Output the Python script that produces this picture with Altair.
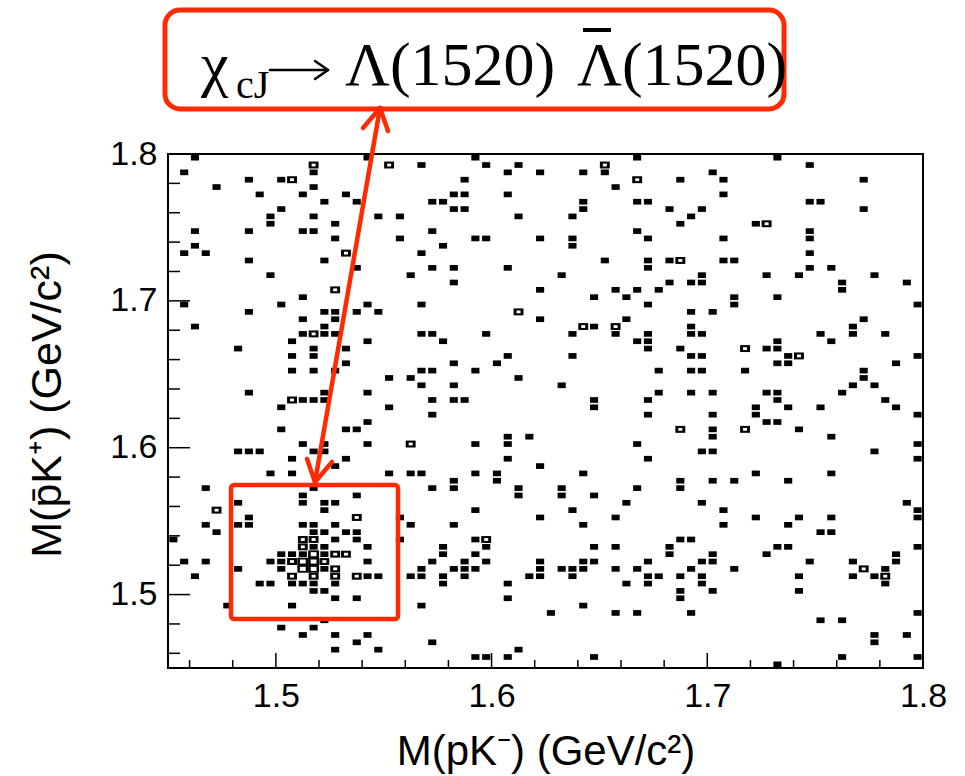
import altair as alt
import pandas as pd

# ---------------- data: occupied bins (bin centres, GeV/c^2) ----------------
# each row: M(pbar K+) value, list of M(p K-) values with entries
ROWS = [
    (1.7975, [1.4625, 1.5425, 1.5925, 1.6675, 1.7325]),
    (1.7925, [1.5175, 1.5525, 1.5675, 1.5975, 1.6125, 1.6525, 1.7475]),
    (1.7875, [1.4575, 1.5175, 1.6075, 1.6225, 1.6425, 1.6525, 1.7025]),
    (1.7825, [1.4875, 1.5025, 1.5075, 1.5875, 1.6675, 1.6875, 1.7075, 1.7725]),
    (1.7775, [1.4725, 1.5175, 1.6575]),
    (1.7725, [1.4925, 1.5125, 1.5325, 1.5825, 1.5875, 1.6075, 1.7075]),
    (1.7675, [1.5225, 1.5375, 1.5725, 1.5775, 1.6425, 1.6675, 1.6725, 1.7475, 1.7525]),
    (1.7625, [1.5025, 1.5825, 1.5875, 1.6425, 1.6825, 1.6975, 1.7725]),
    (1.7575, [1.4975, 1.5175, 1.5475, 1.5575, 1.6125, 1.6375, 1.6925]),
    (1.7525, [1.4975, 1.5275, 1.6875, 1.7225, 1.7275]),
    (1.7475, [1.4625, 1.4875, 1.5125, 1.5175, 1.5725, 1.6675, 1.7475]),
    (1.7425, [1.5275, 1.5575, 1.5925, 1.5975, 1.6225, 1.6375, 1.6725, 1.7075, 1.7475]),
    (1.7375, [1.4625, 1.5775, 1.6375]),
    (1.7325, [1.4575, 1.4675, 1.5325, 1.5675, 1.7475]),
    (1.7275, [1.4875, 1.5225, 1.6525, 1.6725, 1.6825, 1.6875, 1.7075, 1.7125]),
    (1.7225, [1.5375, 1.5725, 1.5825, 1.6075, 1.6725, 1.7475, 1.7575]),
    (1.7175, [1.4975, 1.5625, 1.6325, 1.6975, 1.7275, 1.7425, 1.7775]),
    (1.7125, [1.5825, 1.6825, 1.6925, 1.6975, 1.7625, 1.7925]),
    (1.7075, [1.5275, 1.6225, 1.6575, 1.6675, 1.6775, 1.7625]),
    (1.7025, [1.5125, 1.6475, 1.6625, 1.7125, 1.7325]),
    (1.6975, [1.4575, 1.5025, 1.5425, 1.5675, 1.6725, 1.7125, 1.7975]),
    (1.6925, [1.4875, 1.5225, 1.5275, 1.5375, 1.5475, 1.6125, 1.6925, 1.7025]),
    (1.6875, [1.5125, 1.5275, 1.6225, 1.6625, 1.7725]),
    (1.6825, [1.4625, 1.5225, 1.6425, 1.6475, 1.6575, 1.6925, 1.7675]),
    (1.6775, [1.5125, 1.5175, 1.5225, 1.5275, 1.5675, 1.5725, 1.5975, 1.6375,
              1.6575, 1.6725, 1.6925, 1.6975, 1.7525, 1.7675, 1.7825]),
    (1.6725, [1.5075, 1.5425, 1.5775, 1.6675, 1.6725, 1.7325, 1.7575]),
    (1.6675, [1.4825, 1.5175, 1.5325, 1.6725, 1.6875, 1.7175, 1.7275, 1.7325]),
    (1.6625, [1.5075, 1.5175, 1.6075, 1.6375, 1.6925, 1.6975, 1.7375, 1.7425, 1.7975]),
    (1.6575, [1.5325, 1.5825, 1.6025, 1.7325, 1.7375, 1.7875]),
    (1.6525, [1.5075, 1.5175, 1.5275, 1.5675, 1.5725, 1.5925, 1.6775, 1.6925,
              1.6975, 1.7175, 1.7725]),
    (1.6475, [1.5525, 1.5625, 1.6125, 1.7725]),
    (1.6425, [1.5675, 1.5825, 1.6325, 1.7675, 1.7775]),
    (1.6375, [1.4875, 1.5225, 1.5425, 1.6775, 1.6925, 1.7025, 1.7275, 1.7325, 1.7625]),
    (1.6325, [1.5075, 1.5125, 1.5175, 1.5225, 1.5725, 1.5825, 1.5875, 1.6475,
              1.6725, 1.7325, 1.7825]),
    (1.6275, [1.5025, 1.5525, 1.6475, 1.7225, 1.7375, 1.7525, 1.7875]),
    (1.6225, [1.5725, 1.6725, 1.7025, 1.7225, 1.7975]),
    (1.6175, [1.5425, 1.7275, 1.7325]),
    (1.6125, [1.5025, 1.5325, 1.5375, 1.6875, 1.7025, 1.7175, 1.7425]),
    (1.6075, [1.6075, 1.6175, 1.7025, 1.7575]),
    (1.6025, [1.5125, 1.5225, 1.5425, 1.5625, 1.5925, 1.6075, 1.6675, 1.7975]),
    (1.5975, [1.4825, 1.4875, 1.4925, 1.5175, 1.5225, 1.6975, 1.7025, 1.7775]),
    (1.5925, [1.5075, 1.5325, 1.6075, 1.6725, 1.7975]),
    (1.5875, [1.5275, 1.6225]),
    (1.5825, [1.4975, 1.5075, 1.5525, 1.5625, 1.5675, 1.5925, 1.6025, 1.6425,
              1.7225, 1.7575]),
    (1.5775, [1.5825, 1.6025, 1.6875, 1.7025, 1.7125, 1.7375]),
    (1.5725, [1.4675, 1.5175, 1.5725, 1.5825, 1.6125, 1.6325, 1.6675, 1.6875]),
    (1.5675, [1.5125, 1.5375, 1.6125, 1.6325, 1.6475]),
    (1.5625, [1.4825, 1.5125, 1.5225, 1.5275, 1.6625, 1.6975, 1.7925]),
    (1.5575, [1.4725, 1.5225, 1.5925, 1.6375, 1.7075, 1.7975]),
    (1.5525, [1.4875, 1.5375, 1.5575, 1.6225, 1.6575, 1.7225, 1.7425, 1.7575, 1.7975]),
    (1.5475, [1.4675, 1.4825, 1.4875, 1.5125, 1.5175, 1.5275, 1.5625, 1.5825,
              1.6425, 1.7075, 1.7375]),
    (1.5425, [1.4725, 1.5175, 1.5225, 1.5325, 1.5375, 1.7525, 1.7575]),
    (1.5375, [1.4525, 1.5125, 1.5175, 1.5275, 1.5375, 1.5575, 1.5925, 1.5975,
              1.6875, 1.6925]),
    (1.5325, [1.5125, 1.5175, 1.5225, 1.5425, 1.5775, 1.5975, 1.6475, 1.6575,
              1.6825, 1.7325, 1.7375, 1.7975]),
    (1.5275, [1.5025, 1.5075, 1.5125, 1.5175, 1.5225, 1.5275, 1.5325, 1.5775,
              1.5925, 1.6825, 1.7025, 1.7275, 1.7875]),
    (1.5225, [1.4575, 1.4675, 1.4975, 1.5025, 1.5075, 1.5125, 1.5175, 1.5225,
              1.5425, 1.5725, 1.5875, 1.5975, 1.6225, 1.6425, 1.6475, 1.6725,
              1.6975, 1.7025, 1.7475, 1.7675, 1.7875]),
    (1.5175, [1.4825, 1.5025, 1.5125, 1.5175, 1.5225, 1.5275, 1.5675, 1.5825,
              1.5875, 1.5925, 1.6225, 1.6325, 1.6375, 1.6425, 1.6575, 1.6675,
              1.6925, 1.7125, 1.7725, 1.7825]),
    (1.5125, [1.4625, 1.5075, 1.5175, 1.5275, 1.5375, 1.5425, 1.5475, 1.5625,
              1.5675, 1.5775, 1.5875, 1.6175, 1.6225, 1.6375, 1.6725, 1.6775,
              1.6875, 1.6975, 1.7425, 1.7675, 1.7775, 1.7825]),
    (1.5075, [1.4925, 1.4975, 1.5075, 1.5125, 1.5175, 1.5275, 1.5775, 1.6075,
              1.6625, 1.6725, 1.6975, 1.7825]),
    (1.5025, [1.5175, 1.5225, 1.6875, 1.7025, 1.7425]),
    (1.4975, [1.5275, 1.5375, 1.6075, 1.6875]),
    (1.4925, [1.4775, 1.5075, 1.5675, 1.6425]),
    (1.4875, [1.6275, 1.6575, 1.6675, 1.6925, 1.7975]),
    (1.4825, [1.5225, 1.7525, 1.7625]),
    (1.4775, [1.5025, 1.5175]),
    (1.4725, [1.5125, 1.5275, 1.5425, 1.7775, 1.7925]),
    (1.4675, [1.5375, 1.5725, 1.7775]),
    (1.4625, [1.5275, 1.5475, 1.6125]),
    (1.4575, [1.5925, 1.5975, 1.6075, 1.6475, 1.7625, 1.7975]),
    (1.4525, [1.7325]),
]

# bins holding more than one entry: (M(pK-), M(pbarK+), entries)
MULTI = [
    (1.5175, 1.7925, 2), (1.5525, 1.7925, 2), (1.6525, 1.7925, 2),
    (1.5075, 1.7825, 2), (1.6675, 1.7825, 2), (1.7275, 1.7525, 2),
    (1.5325, 1.7325, 2), (1.6875, 1.7275, 2), (1.5275, 1.7075, 2),
    (1.6125, 1.6925, 2), (1.6425, 1.6825, 2), (1.6575, 1.6825, 2),
    (1.5175, 1.6775, 2), (1.7175, 1.6675, 2), (1.7425, 1.6625, 2),
    (1.5075, 1.6325, 2), (1.6875, 1.6125, 2), (1.7175, 1.6125, 2),
    (1.5625, 1.6025, 2), (1.4725, 1.5575, 2), (1.5375, 1.5525, 2),
    (1.5125, 1.5375, 2), (1.5175, 1.5375, 2), (1.5975, 1.5375, 2),
    (1.5125, 1.5325, 2), (1.5175, 1.5275, 3), (1.5275, 1.5275, 2),
    (1.5325, 1.5275, 2), (1.5075, 1.5225, 2), (1.5125, 1.5225, 3),
    (1.5175, 1.5225, 3), (1.5225, 1.5225, 2), (1.5125, 1.5175, 3),
    (1.5175, 1.5175, 3), (1.5275, 1.5175, 2), (1.7725, 1.5175, 2),
    (1.5075, 1.5125, 2), (1.5175, 1.5125, 2), (1.5275, 1.5125, 2),
    (1.5375, 1.5125, 2), (1.7825, 1.5125, 2),
]

AXIS_DOMAIN = [1.45, 1.8]
LABEL_VALUES = [1.5, 1.6, 1.7, 1.8]
MAJOR_TICKS = [1.5, 1.6, 1.7]
MINOR_TICKS = [1.46, 1.48, 1.52, 1.54, 1.56, 1.58, 1.62, 1.64, 1.66, 1.68,
               1.72, 1.74, 1.76, 1.78]

X_TITLE = "M(pK\u207b) (GeV/c\u00b2)"
Y_TITLE = "M(p\u0304K\u207a) (GeV/c\u00b2)"

# ---------------- layout / style ----------------
W, H = 755, 514          # plot area
OX, OY = 168, 154        # plot origin on the page
RED = "#ff2a00"
SANS = "Liberation Sans"
SERIF = "Liberation Serif"

content = {(x, y): n for x, y, n in MULTI}
recs = []
for yv, xlist in ROWS:
    for xv in xlist:
        recs.append({"m_pK": xv, "m_pbarK": yv, "n": content.get((xv, yv), 1)})
df = pd.DataFrame(recs)

xscale = alt.Scale(domain=AXIS_DOMAIN, nice=False, zero=False)
yscale = alt.Scale(domain=AXIS_DOMAIN, nice=False, zero=False)

X_AXIS = alt.Axis(values=LABEL_VALUES, format=".1f", ticks=False, domain=False,
                  grid=False, labelFlush=False, labelFont=SANS, labelFontSize=34,
                  labelColor="black", labelPadding=11,
                  title=X_TITLE, titleFont=SANS, titleFontSize=42,
                  titleFontWeight="normal", titleColor="black",
                  titleX=W / 2, titleY=96, titleAlign="center",
                  titleBaseline="alphabetic")
Y_AXIS = alt.Axis(values=LABEL_VALUES, format=".1f", ticks=False, domain=False,
                  grid=False, labelFlush=False, labelFont=SANS, labelFontSize=34,
                  labelColor="black", labelPadding=11,
                  title=Y_TITLE, titleFont=SANS, titleFontSize=43,
                  titleFontWeight="normal", titleColor="black",
                  titleAngle=270, titleX=-108, titleY=250, titleAlign="center",
                  titleBaseline="alphabetic")

box_shape = "M-1,-0.7L1,-0.7L1,0.7L-1,0.7Z"

base = alt.Chart(df).encode(
    x=alt.X("m_pK:Q", scale=xscale, axis=X_AXIS),
    y=alt.Y("m_pbarK:Q", scale=yscale, axis=Y_AXIS),
)

# outer (black) part of each box, size growing with the bin content
boxes = base.mark_point(shape=box_shape, filled=True, color="black", opacity=1).encode(
    size=alt.Size("n:Q", scale=alt.Scale(domain=[1, 2, 3], range=[66, 98, 120]),
                  legend=None),
)
# open centre of boxes with more than one entry
holes = base.transform_filter("datum.n >= 2").mark_point(
    shape=box_shape, filled=True, color="white", opacity=1
).encode(
    size=alt.Size("n:Q", scale=alt.Scale(domain=[2, 3], range=[16, 34]), legend=None),
)


def x_ticks(vals, length):
    return alt.Chart(pd.DataFrame({"m_pK": vals})).mark_rule(
        color="black", strokeWidth=1.5
    ).encode(x=alt.X("m_pK:Q", scale=xscale, axis=X_AXIS),
             y=alt.value(H), y2=alt.value(H - length))


def y_ticks(vals, length):
    return alt.Chart(pd.DataFrame({"m_pbarK": vals})).mark_rule(
        color="black", strokeWidth=1.5
    ).encode(y=alt.Y("m_pbarK:Q", scale=yscale, axis=Y_AXIS),
             x=alt.value(0), x2=alt.value(length))


one = pd.DataFrame({"k": [0]})


def seg(x1, y1, x2, y2, w=4.5, color=RED):
    return alt.Chart(one).mark_rule(color=color, strokeWidth=w, strokeCap="round").encode(
        x=alt.value(x1 - OX), y=alt.value(y1 - OY),
        x2=alt.value(x2 - OX), y2=alt.value(y2 - OY))


def frame(x1, y1, x2, y2, radius, w):
    return alt.Chart(one).mark_rect(
        filled=False, stroke=RED, strokeWidth=w, cornerRadius=radius
    ).encode(x=alt.value(x1 - OX), x2=alt.value(x2 - OX),
             y=alt.value(y1 - OY), y2=alt.value(y2 - OY))


def txt(s, x, y, size, font=SERIF):
    return alt.Chart(one).mark_text(
        text=s, font=font, fontSize=size, align="left", baseline="alphabetic",
        color="black"
    ).encode(x=alt.value(x - OX), y=alt.value(y - OY))


# annotation geometry (page pixels)
TITLE_BOX = (165, 10, 784, 109)
CLUSTER_BOX = (231, 485, 398, 619)
ARROW = (380, 108, 315, 482)

layers = [
    boxes, holes,
    x_ticks(MINOR_TICKS, 8), x_ticks(MAJOR_TICKS, 15),
    y_ticks(MINOR_TICKS, 12), y_ticks(MAJOR_TICKS, 22),
    frame(*CLUSTER_BOX, 3, 4.5),
    seg(*ARROW),
    seg(315, 482, 307, 459), seg(315, 482, 332, 462),
    seg(380, 108, 388, 131), seg(380, 108, 363, 128),
    frame(*TITLE_BOX, 15, 5),
    txt("\u03c7", 201, 85, 62),
    txt("cJ", 236, 98, 40),
    # reaction arrow of the title
    seg(270, 70, 327, 70, 2.6, "black"),
    seg(328, 70, 315, 61, 2.6, "black"),
    seg(328, 70, 315, 79, 2.6, "black"),
    txt("\u039b(1520)", 345, 85, 62),
    txt("\u039b(1520)", 577, 85, 62),
    alt.Chart(one).mark_rule(color="black", strokeWidth=4).encode(
        x=alt.value(583 - OX), x2=alt.value(611 - OX),
        y=alt.value(30 - OY), y2=alt.value(30 - OY)),
]

chart = alt.layer(*layers).resolve_scale(size="independent").properties(
    width=W, height=H,
    padding={"left": OX, "top": OY, "right": 965 - OX - W, "bottom": 776 - OY - H},
    autosize=alt.AutoSizeParams(type="none"),
).configure(background="white").configure_view(stroke="black", strokeWidth=2)

chart.save("out.html", embed_options={"renderer": "svg", "actions": False})
